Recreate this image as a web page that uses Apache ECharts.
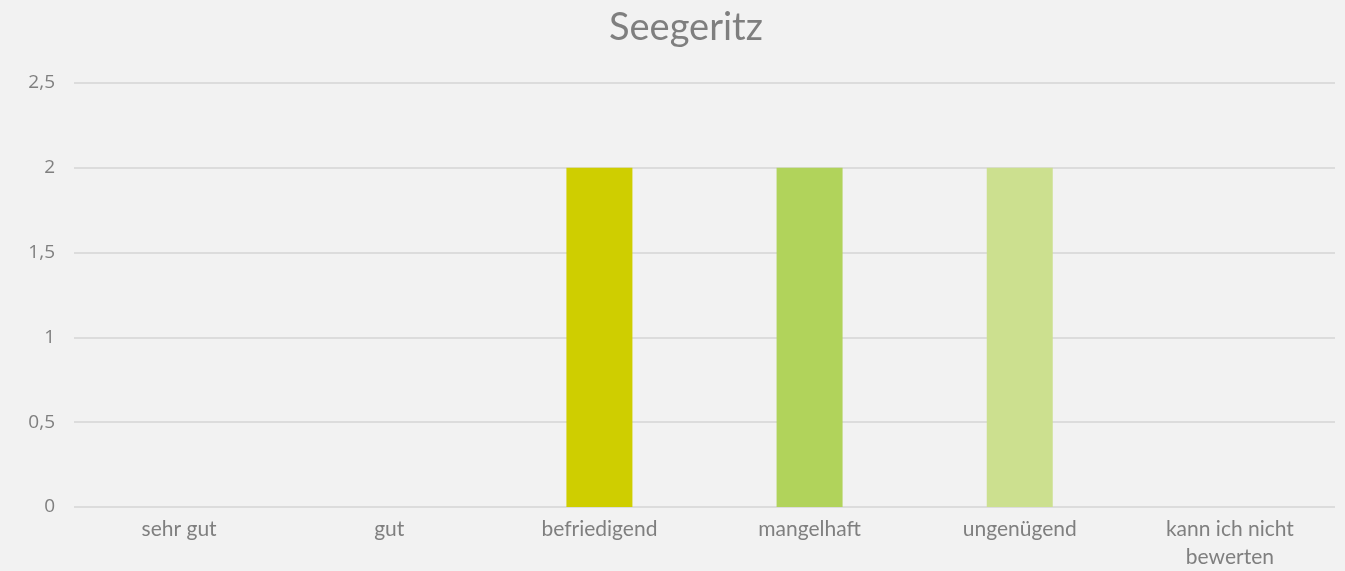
<!DOCTYPE html>
<html>
<head>
<meta charset="utf-8">
<script src="https://cdn.jsdelivr.net/npm/echarts@6/dist/echarts.min.js"></script>
<style>
html,body{margin:0;padding:0;background:#F2F2F2;}
#c{width:1345px;height:571px;}
</style>
</head>
<body>
<div id="c"></div>
<script>
const title = "Seegeritz";
const categories = ["sehr gut", "gut", "befriedigend", "mangelhaft", "ungenügend", "kann ich nicht\nbewerten"];
const values = [0, 0, 2, 2, 2, 0];
const barColors = ["#CFCE00", "#CFCE00", "#CFCE00", "#B1D35B", "#CCE08F", "#CCE08F"];
const yTicks = { min: 0, max: 2.5, interval: 0.5 };

const chart = echarts.init(document.getElementById('c'), null, { renderer: 'canvas' });
chart.setOption({
  backgroundColor: '#F2F2F2',
  animation: false,
  textStyle: { fontFamily: 'Lato' },
  title: {
    text: title,
    left: 604,
    top: 4,
    textStyle: { fontFamily: 'Lato', fontSize: 38, fontWeight: 'normal', color: '#7F7F7F' }
  },
  grid: { left: 74, right: 10, top: 83, bottom: 63.5, containLabel: false },
  xAxis: {
    type: 'category',
    data: categories,
    axisLine: { show: false },
    axisTick: { show: false },
    axisLabel: { color: '#7F7F7F', fontSize: 21, fontFamily: 'Lato', margin: 8, lineHeight: 28, interval: 0 }
  },
  yAxis: {
    type: 'value',
    min: yTicks.min, max: yTicks.max, interval: yTicks.interval,
    axisLine: { show: false },
    axisTick: { show: false },
    splitLine: { lineStyle: { color: '#DCDCDC', width: 2 } },
    axisLabel: {
      color: '#7F7F7F', fontSize: 19, fontFamily: 'Open Sans', margin: 19,
      formatter: v => String(v).replace('.', ',')
    }
  },
  series: [{
    type: 'bar',
    barWidth: '31.4%',
    data: values.map((v, i) => ({ value: v, itemStyle: { color: barColors[i] } }))
  }]
});
</script>
</body>
</html>
